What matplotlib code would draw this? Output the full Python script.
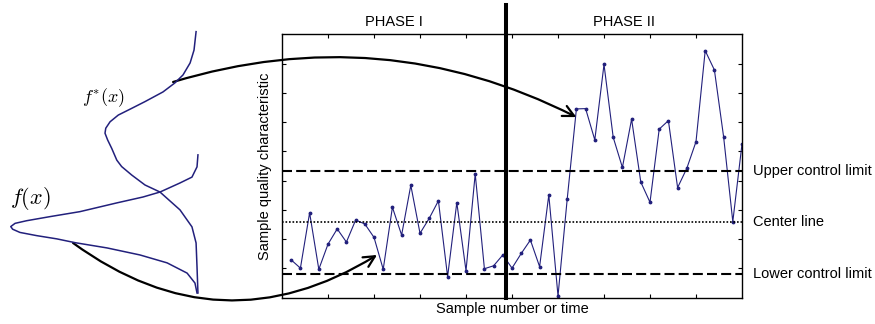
import numpy as np
import matplotlib
matplotlib.use('Agg')
import matplotlib.pyplot as plt

plt.rcParams['font.family'] = ['Liberation Sans', 'DejaVu Sans']
plt.rcParams['mathtext.fontset'] = 'cm'

NAVY = '#22207c'

# Sample values, phase I (24 samples) then phase II (26 samples)
sample_values = [1.29, 1.01, 2.90, 0.97, 1.83, 2.35, 1.90, 2.65, 2.52, 2.06,
                 0.97, 3.09, 2.14, 3.84, 2.20, 2.71, 3.31, 0.72, 3.25, 0.92,
                 4.23, 0.99, 1.09, 1.46,
                 1.01, 1.51, 1.97, 1.06, 3.51, 0.06, 3.37, 6.45, 6.46, 5.39,
                 7.97, 5.48, 4.45, 6.10, 3.95, 3.26, 5.76, 6.05, 3.76, 4.42,
                 5.33, 8.44, 7.78, 5.50, 2.60, 5.25]
sample_number = np.arange(1, len(sample_values) + 1)

ucl = 4.33
center = 2.60
lcl = 0.80
phase_split = 24.3

# in-control density f(x): (density, quality value)
f_density = [-0.005, 0.0, 0.027, 0.091, 0.198, 0.289, 0.428, 0.626, 0.786, 0.911,
             0.973, 0.996, 0.986, 0.947, 0.857, 0.750, 0.652, 0.481, 0.305, 0.160,
             0.053, 0.011, 0.0]
f_value = [4.88, 4.47, 4.12, 3.92, 3.61, 3.44, 3.24, 2.94, 2.77, 2.63,
           2.54, 2.43, 2.34, 2.23, 2.12, 2.01, 1.88, 1.70, 1.46, 1.19,
           0.84, 0.50, 0.16]

# out-of-control density f*(x)
fs_density = [0.005, 0.016, 0.037, 0.075, 0.118, 0.182, 0.278, 0.349, 0.421, 0.465,
              0.488, 0.492, 0.478, 0.456, 0.429, 0.403, 0.349, 0.278, 0.198, 0.091,
              0.027, 0.005, 0.0, -0.005]
fs_value = [9.09, 8.46, 8.02, 7.61, 7.34, 7.03, 6.70, 6.47, 6.24, 6.01,
            5.79, 5.62, 5.39, 5.10, 4.70, 4.48, 4.19, 3.85, 3.61, 3.00,
            2.42, 1.87, 1.05, 0.16]

fig = plt.figure(figsize=(8.75, 3.24), dpi=100)
ax = fig.add_axes([0.3223, 0.0812, 0.5257, 0.813])
axl = fig.add_axes([0.0, 0.0812, 0.3223, 0.813])

# main control chart
ax.plot(sample_number, sample_values, color=NAVY, lw=0.8, marker='.', ms=3.5)
ax.axhline(ucl, color='black', lw=1.5, dashes=(4.8, 2.0))
ax.axhline(lcl, color='black', lw=1.5, dashes=(4.8, 2.0))
ax.axhline(center, color='black', lw=1.2, linestyle=(0, (1, 1.1)))
ax.axvline(phase_split, ymin=0, ymax=1.111, color='black', lw=2.9, clip_on=False, zorder=5)

ax.set_xlim(0, 50)
ax.set_ylim(0, 9)
ax.set_xticks(np.arange(5, 50, 5))
ax.set_yticks(np.arange(1, 9))
ax.tick_params(direction='in', length=3, width=0.8, top=True, right=True,
               labelbottom=False, labelleft=False)
for s in ax.spines.values():
    s.set_linewidth(1.0)
ax.set_xlabel('Sample number or time', fontsize=10.5, labelpad=3)
ax.set_ylabel('Sample quality characteristic', fontsize=10.5, labelpad=7)

trans = ax.get_yaxis_transform()
for y, lab in [(ucl, 'Upper control limit'), (center, 'Center line'), (lcl, 'Lower control limit')]:
    ax.text(1.024, y, lab, transform=trans, fontsize=10.5, va='center', ha='left')

xtrans = ax.get_xaxis_transform()
ax.text(phase_split / 2, 1.046, 'PHASE I', transform=xtrans, fontsize=10.5, ha='center', va='center')
ax.text((phase_split + 50) / 2, 1.046, 'PHASE II', transform=xtrans, fontsize=10.5, ha='center', va='center')

# left panel with the two densities
axl.plot(f_density, f_value, color=NAVY, lw=1.1, clip_on=False, solid_joinstyle='round')
axl.plot(fs_density, fs_value, color=NAVY, lw=1.1, clip_on=False, solid_joinstyle='round')
axl.set_xlim(1.0535, -0.4545)
axl.set_ylim(0, 9)
axl.axis('off')
axl.text(1.0, 3.40, '$f(x)$', fontsize=16, ha='left', va='center')
axl.text(0.615, 6.82, '$f^{*}(x)$', fontsize=13, ha='left', va='center')

arrow = dict(arrowstyle='->', lw=1.6, color='black', shrinkA=0, shrinkB=0, mutation_scale=20)
ax.annotate('', xy=(32.0, 6.17), xycoords=ax.transData,
            xytext=(0.128, 7.37), textcoords=axl.transData, annotation_clip=False,
            arrowprops=dict(arrow, connectionstyle='arc3,rad=-0.2'))
ax.annotate('', xy=(10.33, 1.46), xycoords=ax.transData,
            xytext=(0.663, 1.87), textcoords=axl.transData, annotation_clip=False,
            arrowprops=dict(arrow, connectionstyle='arc3,rad=0.335'))

fig.savefig('out.png', dpi=100)
